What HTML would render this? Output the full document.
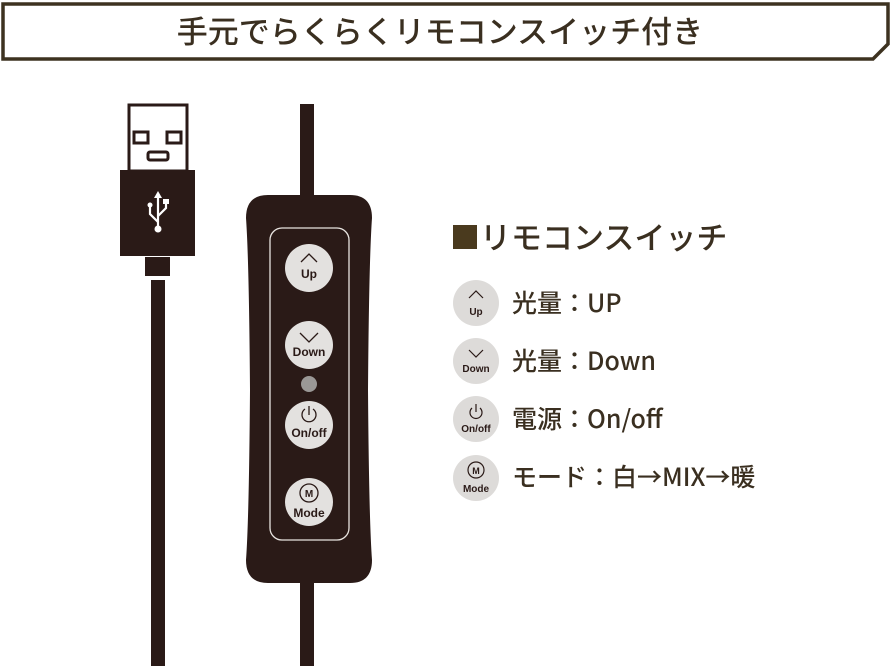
<!DOCTYPE html>
<html><head><meta charset="utf-8"><style>
body{margin:0;background:#fff;width:892px;height:666px;overflow:hidden}
svg{display:block}
.t{font-family:"Noto Sans CJK JP","Liberation Sans",sans-serif;font-weight:500;fill:#3a2f20}
.b{font-family:"Liberation Sans",sans-serif;font-weight:bold;fill:#2a1a17;text-anchor:middle}
</style></head><body>
<svg width="892" height="666" viewBox="0 0 892 666">
<polygon points="3,4 888,4 888,44 873,59 3,59" fill="none" stroke="#3d3220" stroke-width="3.5"/>
<text x="440" y="43" class="t" font-size="31" font-weight="400" text-anchor="middle">手元でらくらくリモコンスイッチ付き</text>

<!-- USB -->
<rect x="129" y="105" width="58" height="66" fill="#fff" stroke="#2a1a17" stroke-width="3"/>
<rect x="134" y="132" width="14" height="11" fill="none" stroke="#2a1a17" stroke-width="3"/>
<rect x="167" y="132" width="14" height="11" fill="none" stroke="#2a1a17" stroke-width="3"/>
<rect x="148" y="152" width="20" height="8" rx="2" fill="none" stroke="#2a1a17" stroke-width="3"/>
<rect x="120" y="170" width="75" height="86" fill="#2a1a17"/>
<g stroke="#fff" stroke-width="2.2" fill="none">
<line x1="158" y1="195" x2="158" y2="228"/>
<path d="M158 222 L150 214 L150 206"/>
<path d="M158 216 L166 208 L166 202"/>
</g>
<polygon points="158,191 154,198 162,198" fill="#fff"/>
<circle cx="158" cy="229" r="3.5" fill="#fff"/>
<circle cx="150" cy="205" r="2.5" fill="#fff"/>
<rect x="163" y="199" width="6" height="5" fill="#fff"/>
<rect x="145" y="257" width="25" height="19" fill="#2a1a17"/>
<rect x="151" y="280" width="14" height="386" fill="#2a1a17"/>

<!-- Remote -->
<rect x="300" y="104" width="14" height="95" fill="#2a1a17"/>
<rect x="300" y="575" width="14" height="91" fill="#2a1a17"/>
<path d="M268 195 L350 195 Q372 195 372 218 Q369 260 368 390 Q369 520 372 560 Q372 583 350 583 L268 583 Q246 583 246 560 Q249 520 250 390 Q249 260 246 218 Q246 195 268 195 Z" fill="#2a1a17"/>
<rect x="270" y="228" width="79" height="312" rx="12" fill="none" stroke="#e8e4e0" stroke-width="1.3"/>
<g fill="#e3e1df">
<circle cx="309" cy="268" r="24"/>
<circle cx="309" cy="345" r="24"/>
<circle cx="309" cy="384" r="8" fill="#9a9896"/>
<circle cx="309" cy="425" r="24"/>
<circle cx="309" cy="502" r="24"/>
</g>
<g stroke="#2a1a17" stroke-width="1.3" fill="none">
<path d="M301 262 L309 254 L317 262"/>
<path d="M300 333 L309 342 L318 333"/>
<path d="M305 409 A7 7 0 1 0 313 409"/><line x1="309" y1="406" x2="309" y2="415"/>
<circle cx="309" cy="493" r="9"/>
</g>
<text x="309" y="278" class="b" font-size="12">Up</text>
<text x="309" y="356" class="b" font-size="12">Down</text>
<text x="309" y="437" class="b" font-size="12">On/off</text>
<text x="309" y="497" class="b" font-size="10">M</text>
<text x="309" y="517" class="b" font-size="12">Mode</text>

<!-- Legend -->
<rect x="453" y="225" width="24" height="24" fill="#4a3a1e"/>
<text x="480" y="249" class="t" font-size="31">リモコンスイッチ</text>
<g fill="#dddbd9">
<circle cx="476" cy="303" r="23"/>
<circle cx="476" cy="361" r="23"/>
<circle cx="476" cy="419" r="23"/>
<circle cx="476" cy="478" r="23"/>
</g>
<g stroke="#2a1a17" stroke-width="1.2" fill="none">
<path d="M469 298 L476 291 L483 298"/>
<path d="M469 350 L476 357 L483 350"/>
<path d="M472 408 A6 6 0 1 0 480 408"/><line x1="476" y1="404" x2="476" y2="412"/>
<circle cx="476" cy="470" r="8"/>
</g>
<text x="476" y="315" class="b" font-size="10">Up</text>
<text x="476" y="372" class="b" font-size="10">Down</text>
<text x="476" y="432" class="b" font-size="10">On/off</text>
<text x="476" y="474" class="b" font-size="9">M</text>
<text x="476" y="492" class="b" font-size="10">Mode</text>
<g class="t" font-size="25">
<text x="512" y="312">光量：UP</text>
<text x="512" y="370">光量：Down</text>
<text x="512" y="428">電源：On/off</text>
<text x="512" y="486">モード：白→MIX→暖</text>
</g>
</svg>
</body></html>
